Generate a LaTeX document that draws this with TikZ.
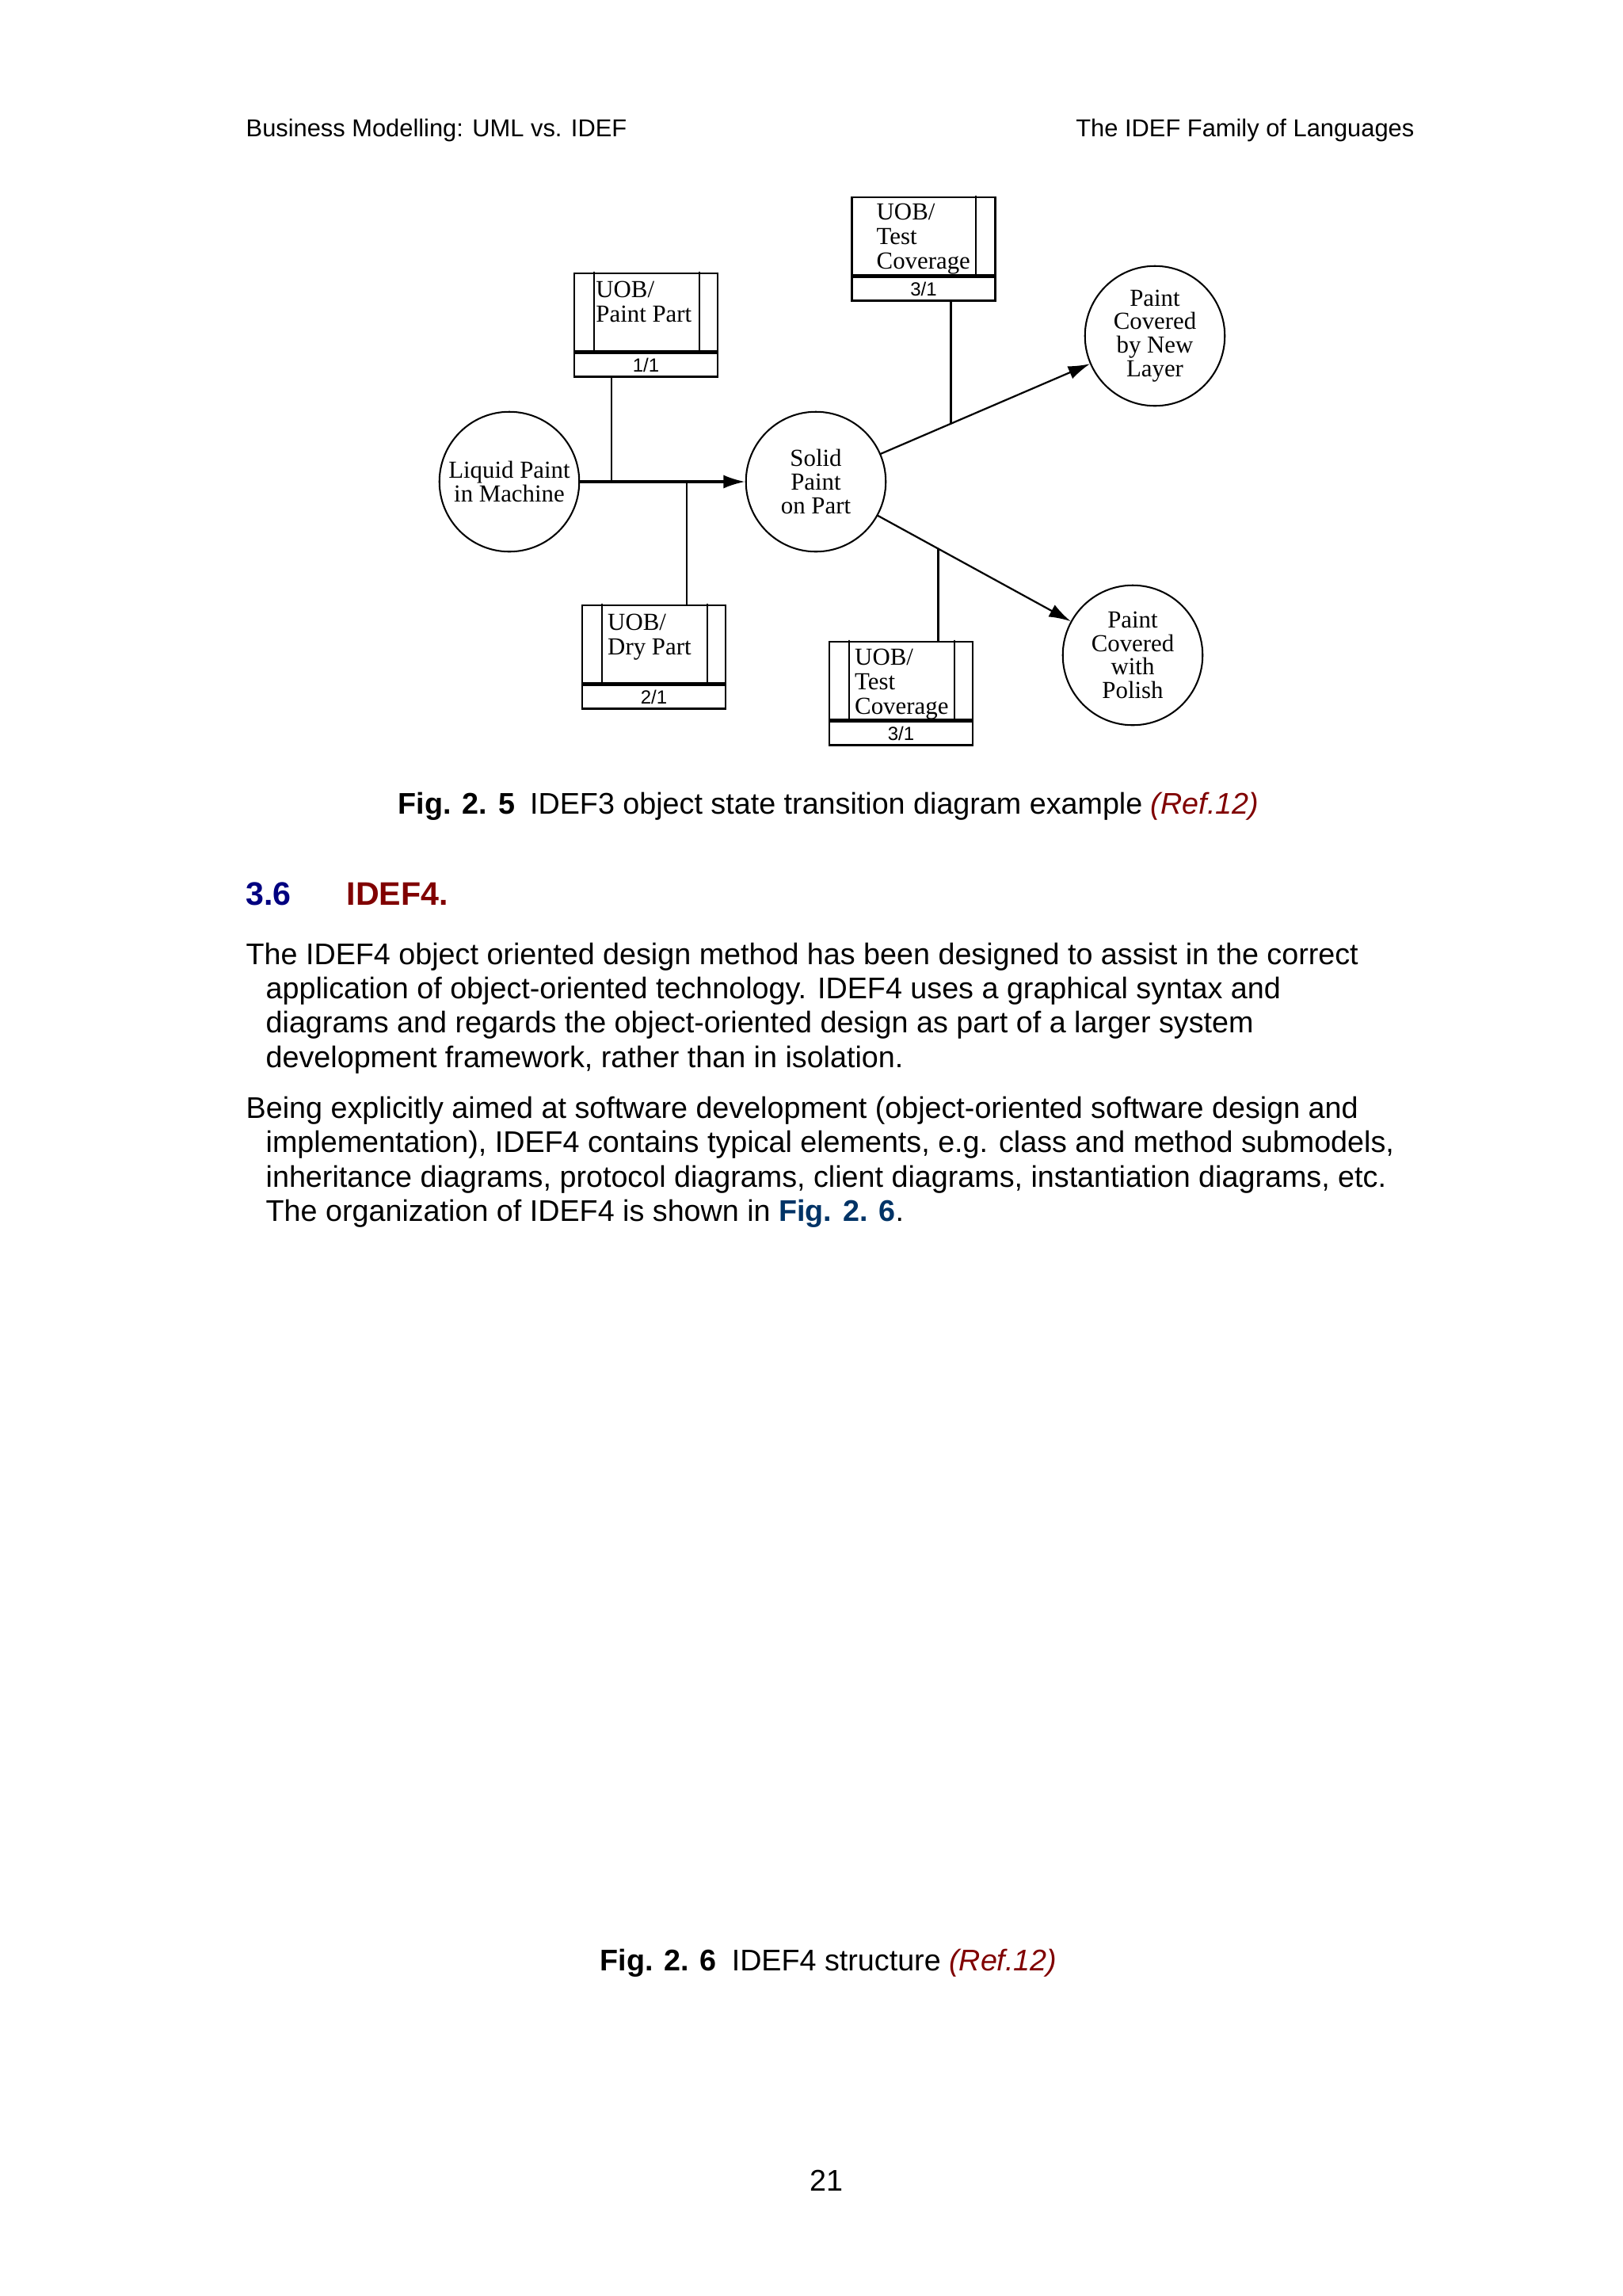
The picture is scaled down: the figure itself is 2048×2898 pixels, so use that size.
\documentclass[tikz,border=0pt]{standalone}
\usepackage{fontspec}
\setmainfont{Liberation Sans}
\newfontfamily\diafont{Liberation Serif}
\usetikzlibrary{arrows.meta,positioning}
\definecolor{refred}{RGB}{128,0,0}
\definecolor{secblue}{RGB}{0,0,128}
\definecolor{figblue}{RGB}{0,51,102}

\tikzset{
  state/.style={circle,draw,line width=0.6pt,minimum size=51.5pt,inner sep=0pt,align=center,
    font=\diafont\fontsize{9}{8.7}\selectfont},
  uobbox/.style={rectangle,draw,line width=0.8pt,minimum width=52.8pt,minimum height=28.6pt,inner sep=0pt},
  uobref/.style={rectangle,draw,line width=0.8pt,minimum width=52.8pt,minimum height=8.7pt,inner sep=0pt,
    anchor=north,font=\fontsize{7}{7}\selectfont},
  uobtext/.style={anchor=north west,inner sep=0pt,align=left,font=\diafont\fontsize{9}{9}\selectfont},
  link/.style={line width=0.65pt},
  body/.style={anchor=base west,inner sep=0pt,font=\fontsize{11}{13}\selectfont}
}

\begin{document}
\begin{tikzpicture}[x=0.01025cm,y=-0.01025cm,>={Latex[length=8pt,width=5pt]},line cap=round]
\useasboundingbox (0,0) rectangle (2048,2898);
% page head
\node[anchor=base west,inner sep=0pt,font=\fontsize{9}{11}\selectfont] (headl) at (310,172) {Business Modelling: UML vs. IDEF};
\node[anchor=base east,inner sep=0pt,font=\fontsize{9}{11}\selectfont] (headr) at (1786,172) {The IDEF Family of Languages};

% object states
\node[state] (liq) at (643,608) {Liquid Paint\\in Machine};
\node[state] (sol) at (1030,608) {Solid\\Paint\\on Part};
\node[state] (new) at (1458,424) {Paint\\Covered\\by New\\Layer};
\node[state] (pol) at (1430,827) {Paint\\Covered\\with\\Polish};

% UOB boxes
\node[uobbox] (pp) at (815.5,394) {};
\node[uobref] (ppref) at (pp.south) {1/1};
\node[uobtext] (pptext) at ([shift={(8.2pt,-3.2pt)}]pp.north west) {UOB/\\Paint Part};
\draw[link] ([xshift=7.6pt]pp.north west) -- ([xshift=7.6pt]pp.south west);
\draw[link] ([xshift=-7pt]pp.north east) -- ([xshift=-7pt]pp.south east);

\node[uobbox] (tc) at (1166,298) {};
\node[uobref] (tcref) at (tc.south) {3/1};
\node[uobtext] (tctext) at ([shift={(9.3pt,-2.5pt)}]tc.north west) {UOB/\\Test\\Coverage};
\draw[link] ([xshift=-7.6pt]tc.north east) -- ([xshift=-7.6pt]tc.south east);

\node[uobbox] (dry) at (825.5,813) {};
\node[uobref] (dryref) at (dry.south) {2/1};
\node[uobtext] (drytext) at ([shift={(9.6pt,-3.5pt)}]dry.north west) {UOB/\\Dry Part};
\draw[link] ([xshift=7.6pt]dry.north west) -- ([xshift=7.6pt]dry.south west);
\draw[link] ([xshift=-7pt]dry.north east) -- ([xshift=-7pt]dry.south east);

\node[uobbox] (tcb) at (1137.5,859) {};
\node[uobref] (tcbref) at (tcb.south) {3/1};
\node[uobtext] (tcbtext) at ([shift={(9.6pt,-2.8pt)}]tcb.north west) {UOB/\\Test\\Coverage};
\draw[link] ([xshift=7.6pt]tcb.north west) -- ([xshift=7.6pt]tcb.south west);
\draw[link] ([xshift=-7pt]tcb.north east) -- ([xshift=-7pt]tcb.south east);

% transitions
\draw[line width=0.9pt,->] (liq) -- coordinate[pos=0.19] (j1) coordinate[pos=0.645] (j2) (sol);
\draw[link,->] (sol) -- coordinate[pos=0.335] (j3) (new);
\draw[link,->] (sol) -- coordinate[pos=0.313] (j4) (pol);
\draw[link] (ppref.south -| j1) -- (j1);
\draw[link] (dry.north -| j2) -- (j2);
\draw[link] (tcref.south -| j3) -- (j3);
\draw[link] (tcb.north -| j4) -- (j4);

% caption and text
\node[anchor=base,inner sep=0pt,font=\fontsize{11}{13}\selectfont] (cap1) at (1046,1027)
  {\textbf{Fig. 2. 5}\enspace IDEF3 object state transition diagram example {\color{refred}\itshape (Ref.12)}};
\node[anchor=base west,inner sep=0pt,font=\bfseries\fontsize{12}{14}\selectfont,text=secblue] (secnum) at (310,1142) {3.6};
\node[anchor=base west,inner sep=0pt,font=\bfseries\fontsize{12}{14}\selectfont,text=refred] (sectitle) at (437,1142) {IDEF4.};
\node[body] (p1a) at (310,1217) {The IDEF4 object oriented design method has been designed to assist in the correct};
\node[body] (p1b) at (335,1260) {application of object-oriented technology. IDEF4 uses a graphical syntax and};
\node[body] (p1c) at (335,1303) {diagrams and regards the object-oriented design as part of a larger system};
\node[body] (p1d) at (335,1347) {development framework, rather than in isolation.};
\node[body] (p2a) at (310,1411) {Being explicitly aimed at software development (object-oriented software design and};
\node[body] (p2b) at (335,1454) {implementation), IDEF4 contains typical elements, e.g. class and method submodels,};
\node[body] (p2c) at (335,1498) {inheritance diagrams, protocol diagrams, client diagrams, instantiation diagrams, etc.};
\node[body] (p2d) at (335,1541) {The organization of IDEF4 is shown in {\bfseries\color{figblue}Fig. 2. 6}.};
\node[anchor=base,inner sep=0pt,font=\fontsize{11}{13}\selectfont] (cap2) at (1046,2487)
  {\textbf{Fig. 2. 6}\enspace IDEF4 structure {\color{refred}\itshape (Ref.12)}};
\node[anchor=base,inner sep=0pt,font=\fontsize{11}{13}\selectfont] (pagenum) at (1043,2765) {21};
\end{tikzpicture}
\end{document}
